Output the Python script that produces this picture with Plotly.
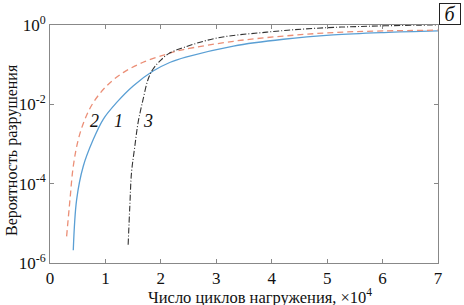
import plotly.graph_objects as go

# Curve 1 (blue, solid)
x1 = [0.42, 0.48, 0.60, 0.78, 0.96, 1.20, 1.50, 1.86, 2.17, 2.45, 3.31, 4.21, 5.11, 6.02, 7.0]
p1 = [2.1e-6, 3.9e-5, 2.75e-4, 1.29e-3, 4.2e-3, 0.011, 0.029, 0.069, 0.115, 0.155, 0.295, 0.437, 0.562, 0.646, 0.708]
# Curve 2 (red, dashed)
x2 = [0.30, 0.36, 0.42, 0.51, 0.63, 0.78, 1.02, 1.32, 1.68, 2.11, 2.41, 3.31, 4.21, 5.11, 6.02, 7.0]
p2 = [4.7e-6, 3.9e-5, 2.75e-4, 1.29e-3, 4.2e-3, 0.011, 0.029, 0.063, 0.115, 0.186, 0.24, 0.389, 0.525, 0.646, 0.708, 0.741]
# Curve 3 (black, dash-dot)
x3 = [1.41, 1.44, 1.47, 1.53, 1.59, 1.68, 1.77, 1.86, 1.99, 2.14, 2.41, 3.01, 3.91, 4.81, 5.72, 6.62, 7.0]
p3 = [2.9e-6, 2.7e-5, 1.86e-4, 8.7e-4, 3.5e-3, 0.0135, 0.043, 0.078, 0.126, 0.19, 0.27, 0.47, 0.66, 0.83, 0.93, 0.99, 1.0]

x_ticks = [0, 1, 2, 3, 4, 5, 6, 7]
y_ticks = [1, 1e-2, 1e-4, 1e-6]
y_ticktext = ["10<sup>0</sup>", "10<sup>-2</sup>", "10<sup>-4</sup>", "10<sup>-6</sup>"]

labels = ["2", "1", "3"]
label_x = [0.81, 1.23, 1.76]
label_logy = [-2.42, -2.42, -2.42]

FONT = "Liberation Serif"

fig = go.Figure()
fig.add_trace(go.Scatter(x=x1, y=p1, mode="lines", line=dict(color="#5a9fd4", width=1.3, shape="spline"), showlegend=False))
fig.add_trace(go.Scatter(x=x2, y=p2, mode="lines", line=dict(color="#eb8f77", width=1.3, dash="6px,4px", shape="spline"), showlegend=False))
fig.add_trace(go.Scatter(x=x3, y=p3, mode="lines", line=dict(color="#333333", width=1.1, dash="6px,2px,1px,2px", shape="spline"), showlegend=False))

for t, xx, yy in zip(labels, label_x, label_logy):
    fig.add_annotation(x=xx, y=yy, yref="y", xref="x", text=f"<i>{t}</i>", showarrow=False,
                       font=dict(family=FONT, size=18, color="#111"))

fig.add_annotation(xref="paper", yref="paper", x=1.0, y=1.0, xanchor="left", yanchor="bottom",
                   xshift=1, yshift=0,
                   text="<i>б</i>", showarrow=False, font=dict(family=FONT, size=20, color="#111"),
                   bordercolor="#222", borderwidth=1, borderpad=0, width=20, height=20)

# axis titles
fig.add_annotation(xref="paper", yref="paper", x=0, y=0, xanchor="left", yanchor="middle",
                   xshift=96, yshift=-33,
                   text="Число циклов нагружения, ×10<sup>4</sup>", showarrow=False,
                   font=dict(family=FONT, size=16.5, color="#111"))
fig.add_annotation(xref="paper", yref="paper", x=0, y=0, xanchor="center", yanchor="bottom",
                   xshift=-38, yshift=25,
                   text="Вероятность разрушения", textangle=-90, showarrow=False,
                   font=dict(family=FONT, size=16, color="#111"))

fig.update_layout(
    width=464, height=305,
    margin=dict(l=50, r=26, t=25, b=42),
    paper_bgcolor="white", plot_bgcolor="white",
    font=dict(family=FONT, size=17, color="#111"),
    xaxis=dict(range=[0, 7], tickvals=x_ticks, ticks="inside", ticklen=4, tickcolor="#888",
               showline=True, linecolor="#888", linewidth=1, mirror="allticks", showgrid=False, zeroline=False,
               automargin=False, tickfont=dict(family=FONT, size=17, color="#111")),
    yaxis=dict(type="log", range=[-6, 0], tickvals=y_ticks, ticktext=y_ticktext, ticks="inside", ticklen=4,
               tickcolor="#888", showline=True, linecolor="#888", linewidth=1, mirror="allticks",
               showgrid=False, zeroline=False, automargin=False,
               tickfont=dict(family=FONT, size=17, color="#111")),
)

fig.write_html("out.html", config={"displayModeBar": False},
               post_script="document.body.style.margin='0';document.body.style.overflow='hidden';")
